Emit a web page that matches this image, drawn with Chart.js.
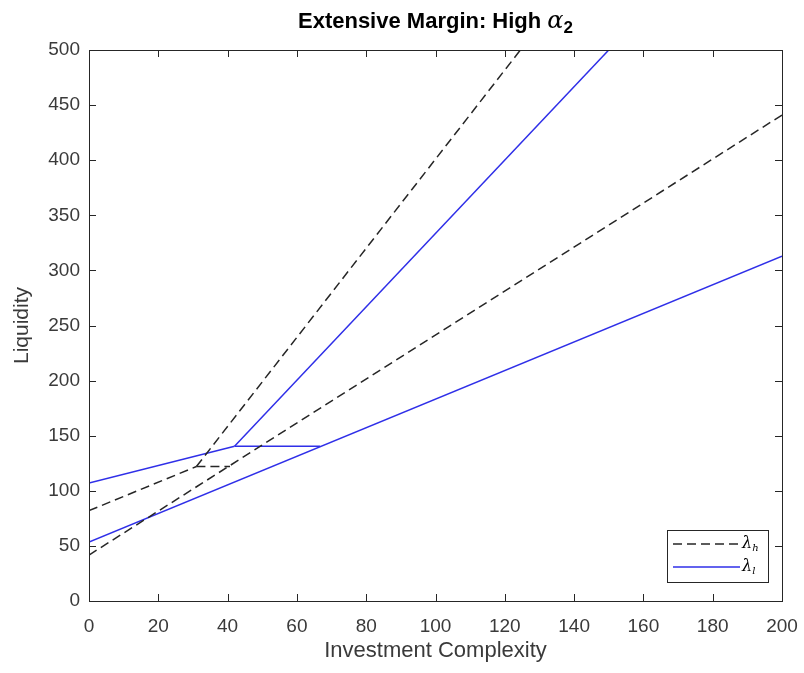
<!DOCTYPE html>
<html>
<head>
<meta charset="utf-8">
<script src="https://cdn.jsdelivr.net/npm/chart.js@4"></script>
<style>
  html, body { margin: 0; padding: 0; background: #fff; }
  #wrap { width: 804px; height: 673px; }
</style>
</head>
<body>
<div id="wrap"><canvas id="marginChart" width="804" height="673"></canvas></div>
<script>
// AXIS TICKS
const xTicks = [0, 20, 40, 60, 80, 100, 120, 140, 160, 180, 200];
const yTicks = [0, 50, 100, 150, 200, 250, 300, 350, 400, 450, 500];

// LAMBDA_H (dashed) segments
const highLowX = [0, 200];
const highLowY = [41.7, 441];
const highUpX = [0, 31];
const highUpY = [82, 122];
const highSteepX = [31, 124.5];
const highSteepY = [122, 500];
const highFlatX = [31, 40.7];
const highFlatY = [122, 122];

// LAMBDA_L (solid blue) segments
const lowLowX = [0, 200];
const lowLowY = [53.5, 313];
const lowUpX = [0, 42];
const lowUpY = [107, 140.5];
const lowSteepX = [42, 150];
const lowSteepY = [140.5, 500];
const lowFlatX = [42, 66.7];
const lowFlatY = [140.5, 140.5];

const axisColor = "#262626";
const blue = "#2f2fe8";
const dark = "#262626";

function pts(xs, ys) {
    return xs.map((x, i) => ({ x: x, y: ys[i] }));
}

function seg(xs, ys, dashed) {
    return {
        data: pts(xs, ys),
        showLine: true,
        borderColor: dashed ? dark : blue,
        borderWidth: 1.5,
        borderDash: dashed ? [9, 5] : [],
        pointRadius: 0,
        fill: false
    };
}

// BOX, INNER TICKS, TITLE AND LEGEND
const matlabLook = {
    id: "matlabLook",
    afterDraw(chart) {
        const ctx = chart.ctx;
        const a = chart.chartArea;
        const xs = chart.scales.x;
        const ys = chart.scales.y;
        ctx.save();
        ctx.strokeStyle = axisColor;
        ctx.lineWidth = 1;
        ctx.setLineDash([]);
        ctx.strokeRect(a.left + 0.5, a.top + 0.5, a.right - a.left, a.bottom - a.top);
        const len = 7;
        ctx.beginPath();
        xTicks.forEach(v => {
            const px = Math.round(xs.getPixelForValue(v)) + 0.5;
            ctx.moveTo(px, a.bottom); ctx.lineTo(px, a.bottom - len);
            ctx.moveTo(px, a.top); ctx.lineTo(px, a.top + len);
        });
        yTicks.forEach(v => {
            const py = Math.round(ys.getPixelForValue(v)) + 0.5;
            ctx.moveTo(a.left, py); ctx.lineTo(a.left + len, py);
            ctx.moveTo(a.right, py); ctx.lineTo(a.right - len, py);
        });
        ctx.stroke();

        // title with alpha_2
        const mainTxt = "Extensive Margin: High ";
        const titleFont = "bold 22px 'Liberation Sans', Arial, sans-serif";
        ctx.fillStyle = "#000";
        ctx.textBaseline = "alphabetic";
        ctx.font = titleFont;
        const w1 = ctx.measureText(mainTxt).width;
        ctx.font = "italic 24px 'DejaVu Serif', serif";
        const w2 = ctx.measureText("α").width;
        ctx.font = "bold 17px 'Liberation Sans', Arial, sans-serif";
        const w3 = ctx.measureText("2").width;
        let tx = (a.left + a.right) / 2 - (w1 + w2 + w3) / 2;
        const ty = 28;
        ctx.textAlign = "left";
        ctx.font = titleFont;
        ctx.fillText(mainTxt, tx, ty);
        tx += w1;
        ctx.font = "italic 24px 'DejaVu Serif', serif";
        ctx.fillText("α", tx, ty);
        tx += w2;
        ctx.font = "bold 17px 'Liberation Sans', Arial, sans-serif";
        ctx.fillText("2", tx, ty + 5);

        // legend box
        const bx = a.right - 115, by = a.bottom - 71, bw = 101, bh = 52;
        ctx.fillStyle = "#fff";
        ctx.fillRect(bx, by, bw, bh);
        ctx.strokeStyle = axisColor;
        ctx.lineWidth = 1;
        ctx.strokeRect(bx + 0.5, by + 0.5, bw, bh);
        const rows = [
            { dashed: true, sub: "h", y: by + 14 },
            { dashed: false, sub: "l", y: by + 37 }
        ];
        rows.forEach(r => {
            ctx.beginPath();
            ctx.strokeStyle = r.dashed ? dark : blue;
            ctx.lineWidth = 1.5;
            ctx.setLineDash(r.dashed ? [9, 5] : []);
            ctx.moveTo(bx + 6, r.y);
            ctx.lineTo(bx + 73, r.y);
            ctx.stroke();
            ctx.setLineDash([]);
            ctx.fillStyle = "#000";
            ctx.textBaseline = "middle";
            ctx.font = "italic 16px 'DejaVu Serif', serif";
            ctx.fillText("λ", bx + 75, r.y);
            const lw = ctx.measureText("λ").width;
            ctx.font = "italic 10px 'DejaVu Serif', serif";
            ctx.fillText(r.sub, bx + 75 + lw, r.y + 4);
        });
        ctx.restore();
    }
};

const ctx = document.getElementById("marginChart").getContext("2d");
new Chart(ctx, {
    type: "scatter",
    data: {
        datasets: [
            seg(highLowX, highLowY, true),
            seg(highUpX, highUpY, true),
            seg(highSteepX, highSteepY, true),
            seg(highFlatX, highFlatY, true),
            seg(lowLowX, lowLowY, false),
            seg(lowUpX, lowUpY, false),
            seg(lowSteepX, lowSteepY, false),
            seg(lowFlatX, lowFlatY, false)
        ]
    },
    options: {
        responsive: false,
        animation: false,
        layout: { padding: { top: 50, right: 22, left: 0, bottom: 0 } },
        plugins: {
            legend: { display: false },
            title: { display: false },
            tooltip: { enabled: false }
        },
        scales: {
            x: {
                type: "linear",
                min: 0,
                max: 200,
                afterFit: s => { s.height = 72; s.paddingLeft = 0; s.paddingRight = 0; },
                afterBuildTicks: s => { s.ticks = xTicks.map(v => ({ value: v })); },
                grid: { display: false, drawTicks: false },
                border: { display: false },
                ticks: {
                    padding: 14,
                    color: "#3a3a3a",
                    font: { family: "'Liberation Sans', Arial, sans-serif", size: 19 }
                },
                title: {
                    display: true,
                    text: "Investment Complexity",
                    color: "#3a3a3a",
                    font: { family: "'Liberation Sans', Arial, sans-serif", size: 22 },
                    padding: { bottom: 9, top: 0 }
                }
            },
            y: {
                type: "linear",
                min: 0,
                max: 500,
                afterFit: s => { s.width = 89; s.paddingTop = 0; s.paddingBottom = 0; },
                afterBuildTicks: s => { s.ticks = yTicks.map(v => ({ value: v })); },
                grid: { display: false, drawTicks: false },
                border: { display: false },
                ticks: {
                    padding: 9,
                    color: "#3a3a3a",
                    font: { family: "'Liberation Sans', Arial, sans-serif", size: 19 }
                },
                title: {
                    display: true,
                    text: "Liquidity",
                    color: "#3a3a3a",
                    font: { family: "'Liberation Sans', Arial, sans-serif", size: 21 },
                    padding: { top: 10, bottom: 0 }
                }
            }
        }
    },
    plugins: [matlabLook]
});
</script>
</body>
</html>
